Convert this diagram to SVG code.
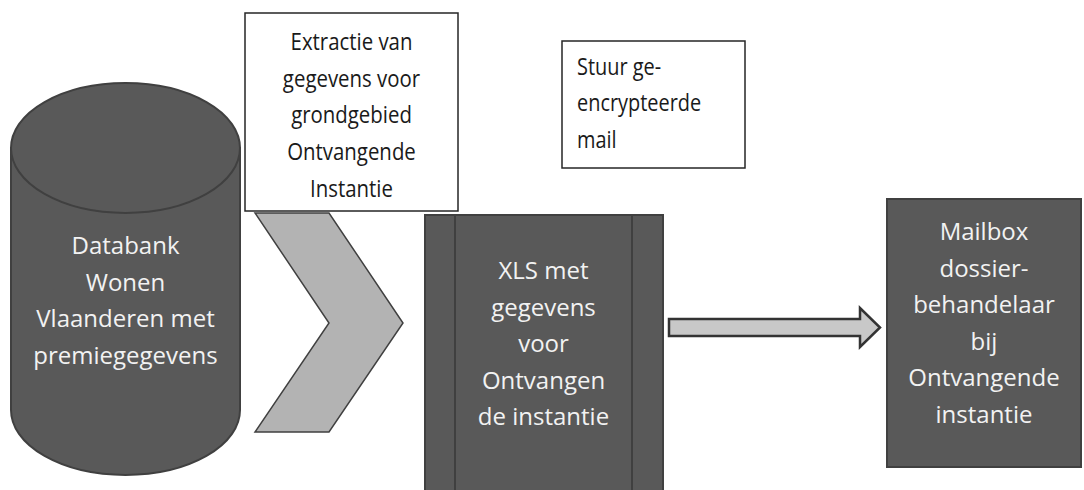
<svg xmlns="http://www.w3.org/2000/svg" width="1084" height="490" viewBox="0 0 1084 490">
<style>
.dark{fill:#595959;stroke:#404040;stroke-width:2}
.box{fill:#ffffff;stroke:#262626;stroke-width:1.5}
.lt{font-family:"Open Sans","Noto Sans",sans-serif;font-size:24px;fill:#f2f2f2;text-anchor:middle}
.dt{font-family:"Open Sans","Noto Sans",sans-serif;font-size:24px;fill:#1a1a1a}
.mid{text-anchor:middle}
</style>
<rect width="1084" height="490" fill="#ffffff"/>
<g id="databank">
<path class="dark" d="M11,148 L11,410 A114.5,65 0 0 0 240,410 L240,148 Z"/>
<ellipse class="dark" cx="125.5" cy="148" rx="114.5" ry="65"/>
<text class="lt" x="125.5" y="254">Databank</text>
<text class="lt" x="125.5" y="290.5">Wonen</text>
<text class="lt" x="125.5" y="327">Vlaanderen met</text>
<text class="lt" x="125.5" y="363.5">premiegegevens</text>
</g>
<g id="extractie">
<rect class="box" x="245" y="13" width="213" height="198"/>
<g transform="translate(351.5,0) scale(0.85,1)">
<text class="dt mid" x="0" y="50">Extractie van</text>
<text class="dt mid" x="0" y="86.75">gegevens voor</text>
<text class="dt mid" x="0" y="123.5">grondgebied</text>
<text class="dt mid" x="0" y="160.25">Ontvangende</text>
<text class="dt mid" x="0" y="197">Instantie</text>
</g>
</g>
<g id="stuur">
<rect class="box" x="562" y="41" width="183" height="127"/>
<g transform="translate(577,0) scale(0.83,1)">
<text class="dt" x="0" y="75">Stuur ge-</text>
<text class="dt" x="0" y="111.5">encrypteerde</text>
<text class="dt" x="0" y="148">mail</text>
</g>
</g>
<g id="xls">
<rect class="dark" x="425" y="215" width="238" height="290"/>
<line x1="455" y1="215" x2="455" y2="495" stroke="#404040" stroke-width="2"/>
<line x1="632" y1="215" x2="632" y2="495" stroke="#404040" stroke-width="2"/>
<text class="lt" x="543.5" y="279">XLS met</text>
<text class="lt" x="543.5" y="315.5">gegevens</text>
<text class="lt" x="543.5" y="352">voor</text>
<text class="lt" x="543.5" y="388.5">Ontvangen</text>
<text class="lt" x="543.5" y="425">de instantie</text>
</g>
<g id="mailbox">
<rect class="dark" x="887" y="199" width="194" height="268"/>
<text class="lt" x="984" y="240">Mailbox</text>
<text class="lt" x="984" y="276.5">dossier-</text>
<text class="lt" x="984" y="313">behandelaar</text>
<text class="lt" x="984" y="349.5">bij</text>
<text class="lt" x="984" y="386">Ontvangende</text>
<text class="lt" x="984" y="422.5">instantie</text>
</g>
<g id="connectors">
<polygon points="255,213 329,213 403,323 329,432 255,432 329,323" fill="#b3b3b3" stroke="#404040" stroke-width="1.5" stroke-linejoin="miter"/>
<polygon points="669,319 860,319 860,308 880,327.5 860,347 860,336 669,336" fill="#c8c8c8" stroke="#333333" stroke-width="2.5" stroke-linejoin="miter"/>
</g>
</svg>
